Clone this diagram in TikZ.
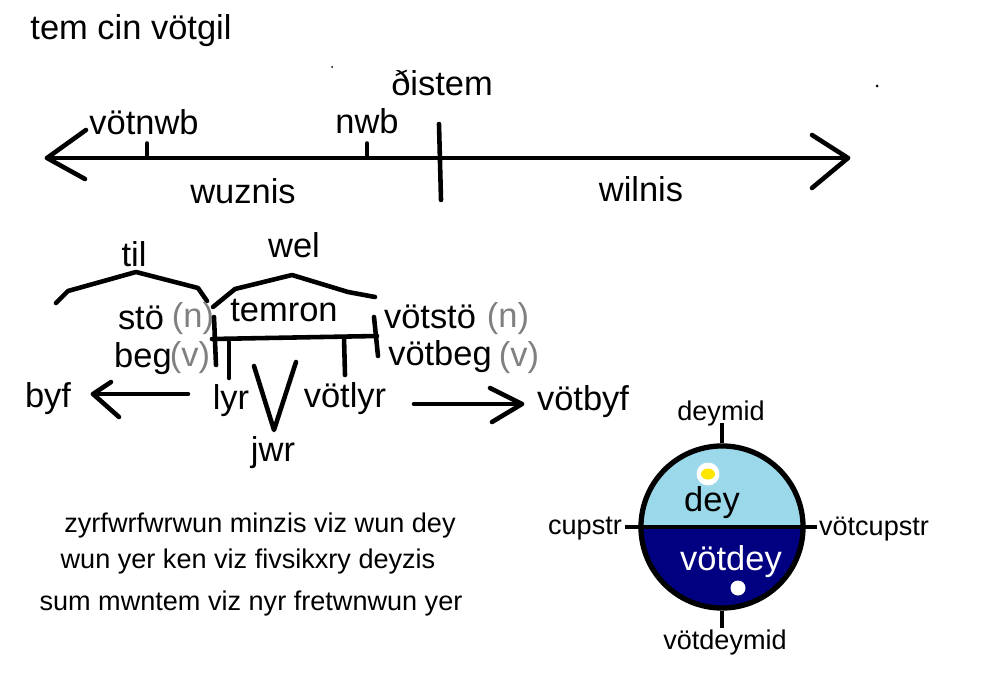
\documentclass[tikz,border=0pt]{standalone}
\usepackage{fontspec}
\setmainfont{Liberation Sans}
\definecolor{skyday}{HTML}{9AD8EA}
\definecolor{navynight}{HTML}{000080}
\definecolor{greytag}{HTML}{808080}
\definecolor{sunyellow}{HTML}{FFE600}
\tikzset{
  bigtext/.style={inner sep=0pt,yshift=-.02cm,font=\fontsize{9.8pt}{11pt}\selectfont},
  smalltext/.style={inner sep=0pt,yshift=-.02cm,font=\fontsize{7.7pt}{9pt}\selectfont},
  greytext/.style={bigtext,text=greytag},
  pen/.style={line width=1.3pt,line cap=round,line join=round},
  thinpen/.style={line width=1pt,line cap=round}
}
\begin{document}
\begin{tikzpicture}[x=.01cm,y=-.01cm]
  \useasboundingbox (0,0) rectangle (1000,676);

  \node[bigtext] (title) at (131,29) {tem cin vötgil};

  % line
  \coordinate (lefttip) at (47,158);
  \coordinate (righttip) at (848,158);
  \coordinate (midtop) at (439,124);
  \coordinate (midbot) at (441,200);
  \coordinate (nwbtick) at (367,158);
  \coordinate (vnwbtick) at (147,158);
  \draw[pen] (lefttip) -- (righttip);
  \draw[pen] (lefttip)+(39,-28) -- (lefttip) -- +(38,21);
  \draw[pen] (righttip)+(-36,-23) -- (righttip) -- +(-36,30);
  \draw[pen] (midtop) -- (midbot);
  \draw[thinpen] (nwbtick) -- +(0,-15);
  \draw[thinpen] (vnwbtick) -- +(0,-15);
  \node[bigtext] (vnwb) at (144,120) {vötnwb};
  \node[bigtext] (nwb) at (367,119) {nwb};
  \node[bigtext] (thistem) at (442,81) {ðistem};
  \node[bigtext] (wuznis) at (243,189) {wuznis};
  \node[bigtext] (wilnis) at (641,187) {wilnis};
  \fill (332,67) circle (1);
  \fill (877,86) circle (1.5);

  % word parts
  \draw[pen] (56,303) -- (68,291) -- (136,272) -- (198,288) -- (207,301);
  \draw[pen] (213,307) -- (235,289) -- (292,275) -- (348,292) -- (375,297);
  \node[bigtext] (til) at (134,252) {til};
  \node[bigtext] (wel) at (294,243) {wel};
  \node[bigtext] (temron) at (284,309) {temron};
  \node[bigtext] (sto) at (141,316) {stö};
  \node[greytext] (ntag) at (193,317) {(n)};
  \node[bigtext] (beg) at (143,357) {beg};
  \node[greytext] (vtag) at (190,356) {(v)};
  \node[bigtext] (vsto) at (430,315) {vötstö};
  \node[greytext] (vntag) at (508,317) {(n)};
  \node[bigtext] (vbeg) at (440,355) {vötbeg};
  \node[greytext] (vvtag) at (519,356) {(v)};
  \node[bigtext] (byf) at (48,397) {byf};
  \node[bigtext] (lyr) at (231,399) {lyr};
  \node[bigtext] (vlyr) at (345,397) {vötlyr};
  \node[bigtext] (jwr) at (273,451) {jwr};
  \node[bigtext] (vbyf) at (583,400) {vötbyf};

  \coordinate (barleft) at (212,339);
  \coordinate (barright) at (377,336);
  \draw[pen] (barleft) -- (barright);
  \draw[pen] (214,317) -- (216,365);
  \draw[pen] (374,317) -- (378,356);
  \draw[pen] (229,342) -- (229,378);
  \draw[pen] (344,337) -- (345,375);
  \draw[pen] (254,366) -- (274,430) -- (296,362);

  \coordinate (byfstart) at (188,394);
  \coordinate (byfend) at (93,394);
  \coordinate (vbyfstart) at (414,404);
  \coordinate (vbyfend) at (522,404);
  \draw[pen] (byfstart) -- (byfend);
  \draw[pen] (byfend)+(18,-12) -- (byfend) -- +(26,23);
  \draw[pen] (vbyfstart) -- (vbyfend);
  \draw[pen] (vbyfend)+(-32,-16) -- (vbyfend) -- +(-30,18);

  % text lines
  \node[smalltext] (lineone) at (260,523) {zyrfwrfwrwun  minzis viz wun dey};
  \node[smalltext] (linetwo) at (248,559) {wun yer ken viz fivsikxry deyzis};
  \node[smalltext] (linethree) at (251,601) {sum mwntem viz nyr fretwnwun yer};

  % day circle
  \node[circle,draw,line width=1.5pt,minimum size=1.62cm,inner sep=0pt,fill=skyday,
    path picture={\fill[navynight] (path picture bounding box.west) rectangle (path picture bounding box.south east);}]
    (daycirc) at (722,527) {};
  \draw[pen,line cap=butt] (daycirc.west) -- (daycirc.east);
  \fill[white] (708,474) circle (11.5);
  \fill[sunyellow] (708,474) ellipse (7 and 5.5);
  \fill[white] (738,588) circle (7.5);
  \node[bigtext] (dey) at (712,501) {dey};
  \node[bigtext,text=white] (vdey) at (731,560) {vötdey};
  \node[smalltext] (deymid) at (721,411) {deymid};
  \node[smalltext] (vdeymid) at (725,640) {vötdeymid};
  \node[smalltext] (cupstr) at (585,527) {cupstr};
  \node[smalltext] (vcupstr) at (874,527) {vötcupstr};
  \draw[pen,line cap=butt] (daycirc.north) -- +(0,-20);
  \draw[pen,line cap=butt] (daycirc.south) -- +(0,17);
  \draw[pen,line cap=butt] (daycirc.west) -- +(-13,0);
  \draw[pen,line cap=butt] (daycirc.east) -- +(11,0);
\end{tikzpicture}
\end{document}
